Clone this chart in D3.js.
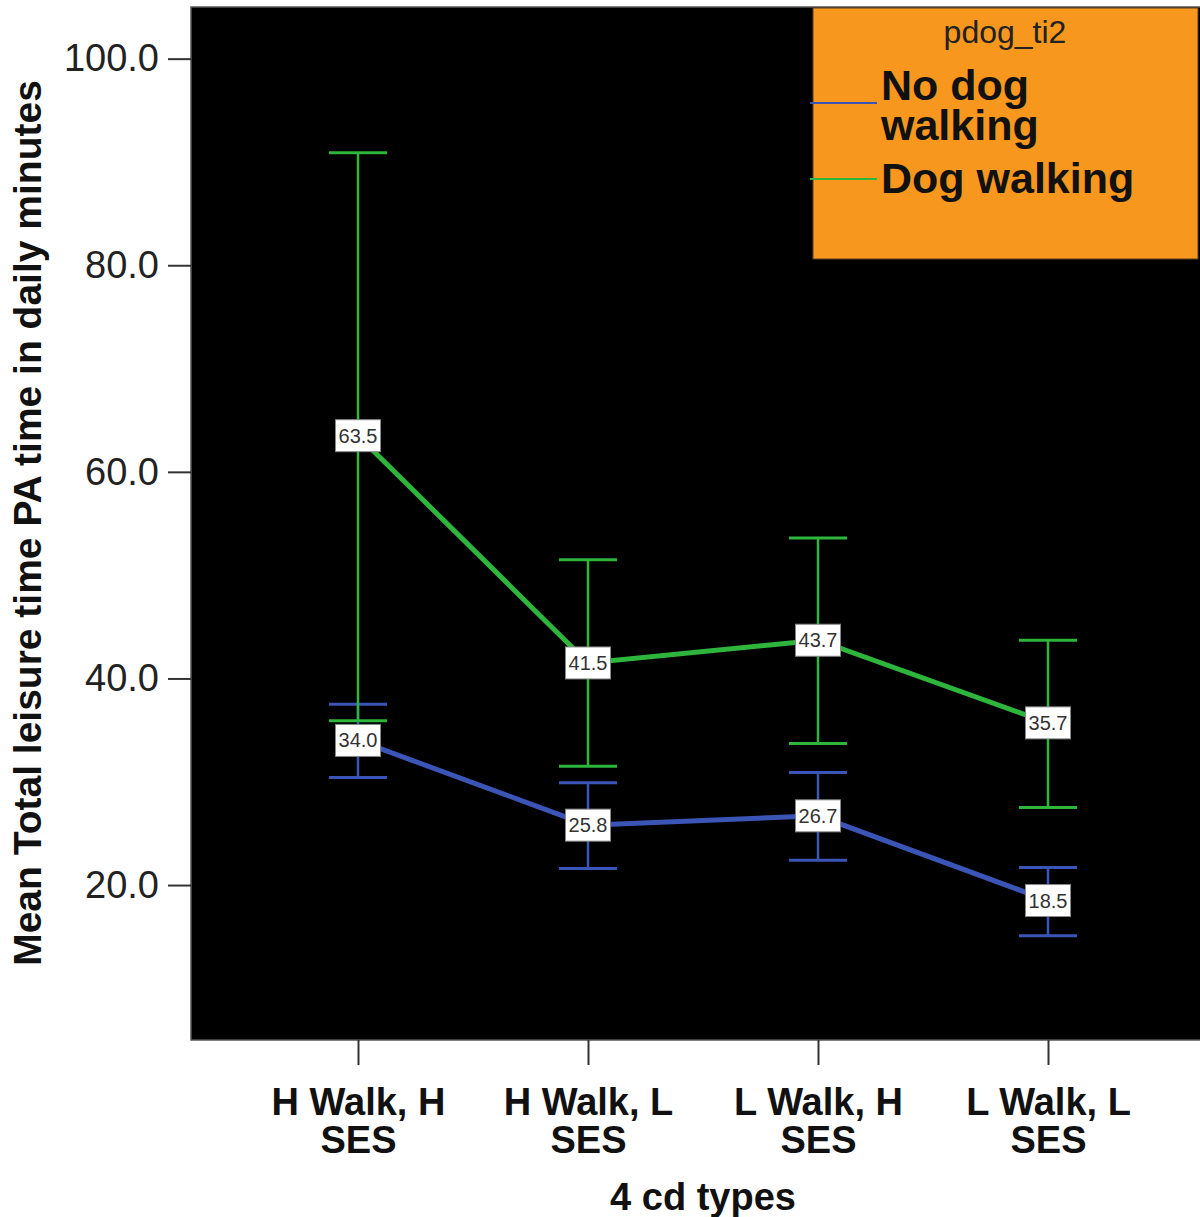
<!DOCTYPE html>
<html>
<head>
<meta charset="utf-8">
<script src="https://cdn.jsdelivr.net/npm/d3@7"></script>
<style>
  body { margin: 0; background: #fff; }
  svg { display: block; font-family: "Liberation Sans", Arial, sans-serif; }
</style>
</head>
<body>
<div id="vis"></div>
<script>
const FRAME_WIDTH = 1200;
const FRAME_HEIGHT = 1217;
const PLOT = {left: 191, right: 1200, top: 7, bottom: 1040};

// data
const categories = ["H Walk, H SES", "H Walk, L SES", "L Walk, H SES", "L Walk, L SES"];
const tickLines = [["H Walk, H", "SES"], ["H Walk, L", "SES"], ["L Walk, H", "SES"], ["L Walk, L", "SES"]];
const yTicks = [20, 40, 60, 80, 100];

const noDogMean = [34.0, 25.8, 26.7, 18.5];
const noDogLow = [30.4, 21.6, 22.4, 15.1];
const noDogHigh = [37.5, 29.9, 30.9, 21.7];

const dogMean = [63.5, 41.5, 43.7, 35.7];
const dogLow = [35.9, 31.5, 33.7, 27.5];
const dogHigh = [90.9, 51.5, 53.6, 43.7];

const seriesNames = ["No dog walking", "Dog walking"];
const legendLines = [["No dog", "walking"], ["Dog walking"]];
const COLORS = ["#3b55b7", "#2eb53b"];

const series = [
    {name: seriesNames[0], mean: noDogMean, low: noDogLow, high: noDogHigh, color: COLORS[0]},
    {name: seriesNames[1], mean: dogMean, low: dogLow, high: dogHigh, color: COLORS[1]}
];

const FRAME = d3.select("#vis")
    .append("svg")
    .attr("width", FRAME_WIDTH)
    .attr("height", FRAME_HEIGHT);

const X_SCALE = d3.scalePoint()
    .domain(categories)
    .range([243, 1163])
    .padding(0.5);

const Y_SCALE = d3.scaleLinear()
    .domain([5, 105])
    .range([PLOT.bottom, PLOT.top]);

// black plot area
FRAME.append("rect")
    .attr("x", PLOT.left)
    .attr("y", PLOT.top)
    .attr("width", PLOT.right - PLOT.left + 5)
    .attr("height", PLOT.bottom - PLOT.top)
    .attr("fill", "#000")
    .attr("stroke", "#555")
    .attr("stroke-width", 1.5);

// y axis
const yAxis = FRAME.append("g")
    .attr("transform", "translate(" + PLOT.left + ",0)")
    .call(d3.axisLeft(Y_SCALE).tickValues(yTicks).tickFormat(d3.format(".1f"))
        .tickSize(23).tickPadding(9));
yAxis.select(".domain").remove();
yAxis.selectAll("line").attr("stroke", "#333").attr("stroke-width", 2);
yAxis.selectAll("text")
    .attr("font-size", 38)
    .attr("font-family", "'Liberation Sans', Arial, sans-serif")
    .attr("fill", "#222");

// x axis
const xAxis = FRAME.append("g")
    .attr("transform", "translate(0," + PLOT.bottom + ")")
    .call(d3.axisBottom(X_SCALE).tickSize(25));
xAxis.select(".domain").remove();
xAxis.selectAll("line").attr("stroke", "#333").attr("stroke-width", 2);
xAxis.selectAll("text")
    .attr("font-size", 38)
    .attr("font-weight", "bold")
    .attr("font-family", "'Liberation Sans', Arial, sans-serif")
    .attr("fill", "#111")
    .attr("y", null)
    .attr("dy", null)
    .text(null)
    .each(function (d, i) {
        const t = d3.select(this);
        tickLines[i].forEach((line, j) => {
            t.append("tspan").attr("x", 0).attr("y", 75 + j * 38).text(line);
        });
    });

// axis titles
FRAME.append("text")
    .attr("x", 703)
    .attr("y", 1210)
    .attr("text-anchor", "middle")
    .attr("font-size", 38)
    .attr("font-weight", "bold")
    .attr("fill", "#111")
    .text("4 cd types");

FRAME.append("text")
    .attr("transform", "translate(41," + 523 + ") rotate(-90)")
    .attr("text-anchor", "middle")
    .attr("font-size", 39)
    .attr("font-weight", "bold")
    .attr("fill", "#111")
    .text("Mean Total leisure time PA time in daily minutes");

// error bars
const CAP = 29;
series.forEach((s) => {
    const g = FRAME.append("g");
    categories.forEach((c, i) => {
        const cx = X_SCALE(c);
        g.append("line")
            .attr("x1", cx).attr("x2", cx)
            .attr("y1", Y_SCALE(s.low[i])).attr("y2", Y_SCALE(s.high[i]))
            .attr("stroke", s.color).attr("stroke-width", 2.5);
        [s.low[i], s.high[i]].forEach((v) => {
            g.append("line")
                .attr("x1", cx - CAP).attr("x2", cx + CAP)
                .attr("y1", Y_SCALE(v)).attr("y2", Y_SCALE(v))
                .attr("stroke", s.color).attr("stroke-width", 3);
        });
    });
});

// mean lines
const line = d3.line()
    .x((d, i) => X_SCALE(categories[i]))
    .y((d) => Y_SCALE(d));

series.forEach((s) => {
    FRAME.append("path")
        .datum(s.mean)
        .attr("d", line)
        .attr("fill", "none")
        .attr("stroke", s.color)
        .attr("stroke-width", 5);
});

// value labels
series.forEach((s) => {
    categories.forEach((c, i) => {
        const cx = X_SCALE(c);
        const cy = Y_SCALE(s.mean[i]);
        FRAME.append("rect")
            .attr("x", cx - 22.5).attr("y", cy - 16)
            .attr("width", 45).attr("height", 32)
            .attr("fill", "#fff")
            .attr("stroke", "#888")
            .attr("stroke-width", 1);
        FRAME.append("text")
            .attr("x", cx).attr("y", cy + 7)
            .attr("text-anchor", "middle")
            .attr("font-size", 20)
            .attr("fill", "#333")
            .text(d3.format(".1f")(s.mean[i]));
    });
});

// legend
const LEGEND = FRAME.append("g");
LEGEND.append("rect")
    .attr("x", 813).attr("y", 8)
    .attr("width", 385).attr("height", 251)
    .attr("fill", "#f7971d")
    .attr("stroke", "#5a4020")
    .attr("stroke-width", 1);
LEGEND.append("text")
    .attr("x", 1005).attr("y", 43)
    .attr("text-anchor", "middle")
    .attr("font-size", 32)
    .attr("fill", "#222")
    .text("pdog_ti2");

const legendY = [103, 179];
const legendBase = [100, 193];
series.forEach((s, i) => {
    LEGEND.append("line")
        .attr("x1", 810).attr("x2", 877)
        .attr("y1", legendY[i]).attr("y2", legendY[i])
        .attr("stroke", s.color)
        .attr("stroke-width", 2);
    const t = LEGEND.append("text")
        .attr("font-size", 43)
        .attr("font-weight", "bold")
        .attr("fill", "#111");
    legendLines[i].forEach((ln, j) => {
        t.append("tspan").attr("x", 881).attr("y", legendBase[i] + j * 40).text(ln);
    });
});
</script>
</body>
</html>
